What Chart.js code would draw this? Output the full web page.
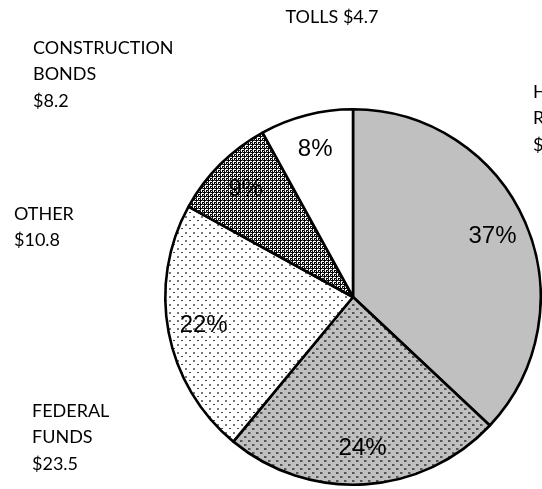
<!DOCTYPE html>
<html><head><meta charset="utf-8">
<script src="https://cdn.jsdelivr.net/npm/chart.js@4"></script>
<style>html,body{margin:0;padding:0;background:#fff}#wrap{width:542px;height:489px;position:relative}</style>
</head><body><div id="wrap"><canvas id="c" width="542" height="489"></canvas></div>
<script>
const categories = ["HIGHWAY REVENUE", "FEDERAL FUNDS", "OTHER", "CONSTRUCTION BONDS", "TOLLS"];
const shares = [37, 24, 22, 9, 8];
const amounts = ["$36.2", "$23.5", "$10.8", "$8.2", "$4.7"];
const nameLines = [["HIGHWAY", "REVENUE"], ["FEDERAL", "FUNDS"], ["OTHER"], ["CONSTRUCTION", "BONDS"], ["TOLLS"]];

function makePattern(w, h, bg, draw) {
  const c = document.createElement('canvas'); c.width = w; c.height = h;
  const x = c.getContext('2d');
  x.fillStyle = bg; x.fillRect(0, 0, w, h);
  draw(x);
  return document.getElementById('c').getContext('2d').createPattern(c, 'repeat');
}
const solidGray = '#c0c0c0';
const dotGray = makePattern(8, 8, '#c0c0c0', x => {
  x.fillStyle = '#555'; x.fillRect(0, 0, 2, 2); x.fillRect(4, 4, 2, 2);
  x.fillStyle = '#8a8a8a'; x.fillRect(2, 0, 1, 2); x.fillRect(6, 4, 1, 2);
});
const dotWhite = makePattern(8, 8, '#ffffff', x => {
  x.fillStyle = '#777'; x.fillRect(1, 0, 2, 2);
  x.fillStyle = '#444'; x.fillRect(5, 4, 2, 1);
});
const checker = makePattern(4, 4, '#ffffff', x => {
  x.fillStyle = '#000';
  x.fillRect(0, 0, 4, 1); x.fillRect(0, 0, 1, 4);
  x.fillRect(2, 2, 2, 1); x.fillRect(2, 2, 1, 2);
  x.fillStyle = '#555'; x.fillRect(2, 0, 1, 1); x.fillRect(0, 2, 1, 1);
});
const fills = [solidGray, dotGray, dotWhite, checker, '#ffffff'];

const outerLabels = {
  id: 'outerLabels',
  afterDraw(chart) {
    const ctx = chart.ctx;
    const meta = chart.getDatasetMeta(0);
    ctx.save();
    ctx.fillStyle = '#000';
    ctx.textAlign = 'center'; ctx.textBaseline = 'middle';
    ctx.font = '24px "Liberation Sans", Arial, sans-serif';
    meta.data.forEach((arc, i) => {
      const p = arc.getProps(['x', 'y', 'startAngle', 'endAngle', 'outerRadius'], true);
      const mid = (p.startAngle + p.endAngle) / 2;
      const r = p.outerRadius * 0.81;
      ctx.fillText(shares[i] + '%', p.x + Math.cos(mid) * r, p.y + Math.sin(mid) * r);
    });
    ctx.font = '18px Lato, "Open Sans", sans-serif';
    ctx.textAlign = 'left';
    const anchors = [[533, 92], [32, 411], [14, 214], [33, 48], [null, 17]];
    nameLines.forEach((lines, i) => {
      const [ax, ay] = anchors[i];
      if (ax === null) {
        ctx.textAlign = 'center';
        ctx.fillText(lines.join(' ') + ' ' + amounts[i], 332, ay);
        ctx.textAlign = 'left';
        return;
      }
      const all = lines.concat([amounts[i]]);
      all.forEach((t, k) => ctx.fillText(t, ax, ay + k * 26.5));
    });
    ctx.restore();
  }
};

new Chart(document.getElementById('c'), {
  type: 'pie',
  data: {
    labels: categories,
    datasets: [{
      data: shares,
      backgroundColor: fills,
      borderColor: '#000',
      borderWidth: 2.6,
      hoverOffset: 0,
      offset: 0
    }]
  },
  options: {
    responsive: false,
    animation: false,
    events: [],
    layout: { padding: { left: 164, top: 108, right: 0, bottom: 3 } },
    plugins: { legend: { display: false }, tooltip: { enabled: false } }
  },
  plugins: [outerLabels]
});
</script></body></html>
